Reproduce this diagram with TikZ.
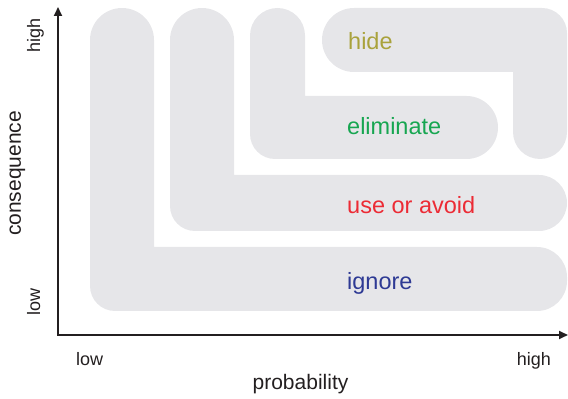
\documentclass[tikz,border=0pt]{standalone}
\usepackage{fontspec}
\setmainfont{Liberation Sans}
\usetikzlibrary{arrows.meta}
\definecolor{regionfill}{HTML}{E6E6E9}
\definecolor{inkdark}{HTML}{231F20}
\definecolor{hidecol}{HTML}{A9A23C}
\definecolor{elimcol}{HTML}{17A651}
\definecolor{usecol}{HTML}{EC2B35}
\definecolor{ignorecol}{HTML}{2E3A94}
\tikzset{
  region/.style={fill=regionfill, draw=none},
  axisline/.style={draw=inkdark, line width=1.8pt, line join=miter,
    {Triangle[length=9pt,width=8pt]}-{Triangle[length=9pt,width=8pt]}},
  zonelabel/.style={anchor=base west, inner sep=0pt, font=\fontsize{23.5}{27}\selectfont},
  axistitle/.style={inner sep=0pt, text=inkdark, font=\fontsize{21}{25}\selectfont},
  ticklabel/.style={inner sep=0pt, text=inkdark, font=\fontsize{18}{22}\selectfont},
}
\begin{document}
\begin{tikzpicture}[x=1pt,y=1pt]
\useasboundingbox (0,0) rectangle (568,399);
% ignore
\fill[region] (90,113) -- (90,359) arc[start angle=180,end angle=0,radius=32]
  -- (154,152) -- (537,152) arc[start angle=90,end angle=0,radius=30]
  -- (567,118) arc[start angle=0,end angle=-90,radius=30]
  -- (115,88) arc[start angle=270,end angle=180,radius=25] -- cycle;
% use or avoid
\fill[region] (170,193) -- (170,359) arc[start angle=180,end angle=0,radius=32]
  -- (234,224) -- (539,224) arc[start angle=90,end angle=-90,radius=28]
  -- (195,168) arc[start angle=270,end angle=180,radius=25] -- cycle;
% eliminate
\fill[region] (250,265) -- (250,363.5) arc[start angle=180,end angle=0,radius=27.5]
  -- (305,303) -- (466.5,303) arc[start angle=90,end angle=-90,radius=31.5]
  -- (275,240) arc[start angle=270,end angle=180,radius=25] -- cycle;
% hide
\fill[region] (354,391) -- (542,391) arc[start angle=90,end angle=0,radius=25]
  -- (567,267) arc[start angle=0,end angle=-180,radius=27]
  -- (513,327) -- (354,327) arc[start angle=270,end angle=90,radius=32] -- cycle;
% axes
\coordinate (origin) at (58,64);
\coordinate (ytop) at (58,392);
\coordinate (xend) at (568,64);
\draw[axisline] (ytop) -- (origin) -- (xend);
% zone labels
\node[zonelabel, text=hidecol] (lhide) at (348,349) {hide};
\node[zonelabel, text=elimcol] (lelim) at (347,264) {eliminate};
\node[zonelabel, text=usecol] (luse) at (347,185) {use or avoid};
\node[zonelabel, text=ignorecol] (lignore) at (347,109) {ignore};
% axis labels
\node[ticklabel, rotate=90, anchor=base] (yhigh) at (40,363.5) {high};
\node[axistitle, rotate=90, anchor=base] (ytitle) at (21,225.5) {consequence};
\node[ticklabel, rotate=90, anchor=base] (ylow) at (40,97) {low};
\node[ticklabel, anchor=base west] (xlow) at (76,33) {low};
\node[ticklabel, anchor=base east] (xhigh) at (551,33) {high};
\node[axistitle, anchor=base] (xtitle) at (300.5,9) {probability};
\end{tikzpicture}
\end{document}
